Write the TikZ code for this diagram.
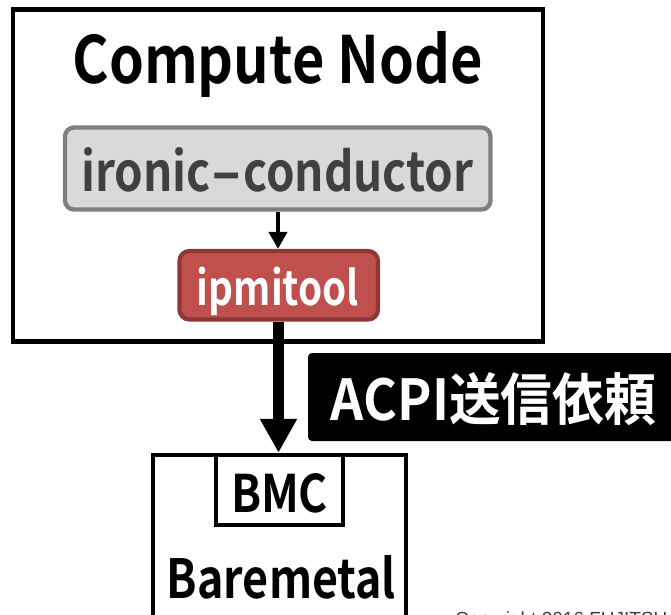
\documentclass[tikz,border=0pt]{standalone}
\usepackage{fontspec}
\usepackage{graphicx}
\usetikzlibrary{arrows.meta}
\setmainfont{Liberation Sans}
\newfontfamily\gothic{Noto Sans CJK JP Bold}
% text squeezed to a given ink width and height above the baseline
\newcommand\fitted[3]{\resizebox{#1pt}{#2pt}{\gothic #3}}
\definecolor{condfill}{HTML}{D9D9D9}
\definecolor{conddraw}{HTML}{7F7F7F}
\definecolor{condtext}{HTML}{404040}
\definecolor{toolfill}{HTML}{C0504D}
\definecolor{tooldraw}{HTML}{8C3836}
\begin{document}
\begin{tikzpicture}[x=1pt,y=-1pt,
  hostbox/.style={draw=black,line width=4.5pt,minimum width=#1,inner sep=0pt},
  procbox/.style={rounded corners=9pt,line width=4.3pt,inner sep=0pt},
  txt/.style={inner sep=0pt,anchor=base},
  thinarrow/.style={line width=4pt,-{Triangle[width=18pt,length=17pt]}},
  fatarrow/.style={line width=11pt,-{Triangle[width=35pt,length=34pt]}}]
\useasboundingbox (0,0) rectangle (671,614);

% compute node and its processes
\node[hostbox=530pt,minimum height=332pt] (compute) at (278,175.5) {};
\node[txt] (computetitle) at (277.5,83.3) {\fitted{410}{52}{Compute Node}};

\node[procbox,draw=conddraw,fill=condfill,minimum width=425.5pt,minimum height=82pt]
  (conductor) at (277.75,168.5) {};
\node[txt,text=condtext] (conductortext) at (277.5,191.7)
  {\fitted{392}{44}{ironic\scalebox{1.9}[1]{-}conductor}};

\node[procbox,rounded corners=10pt,draw=tooldraw,fill=toolfill,minimum width=198.5pt,minimum height=68.5pt]
  (ipmi) at (278.75,285.25) {};
\node[txt,text=white] (ipmitext) at (278,305.5) {\fitted{162}{38.5}{ipmitool}};

% request label
\node[fill=black,rounded corners=4pt,minimum width=382pt,minimum height=88pt,inner sep=0pt]
  (acpi) at (499,397) {};
\node[txt,text=white] (acpitext) at (493.5,420) {\fitted{325}{48}{ACPI送信依頼}};

% baremetal machine with its BMC
\node[hostbox=253pt,minimum height=185pt] (baremetal) at (279.5,547.5) {};
\node[hostbox=127pt,minimum height=70pt] (bmc) at (279.5,490) {};
\node[txt] (bmctext) at (279.5,512) {\fitted{97}{39}{BMC}};
\node[txt] (baremetaltext) at (281.5,598) {\fitted{229}{43}{Baremetal}};

% connectors
\draw[thinarrow] (conductor.south -| 278,0) -- (ipmi.north -| 278,0);
\draw[fatarrow] (ipmi.south -| 278.5,0) -- (bmc.north -| 278.5,0);

% footer line, running off the lower edge
\node[inner sep=0pt,anchor=base west,text=condtext,font=\fontsize{19}{19}\selectfont]
  (copyright) at (455,625.5) {Copyright 2016 FUJITSU LIMITED};
\end{tikzpicture}
\end{document}
